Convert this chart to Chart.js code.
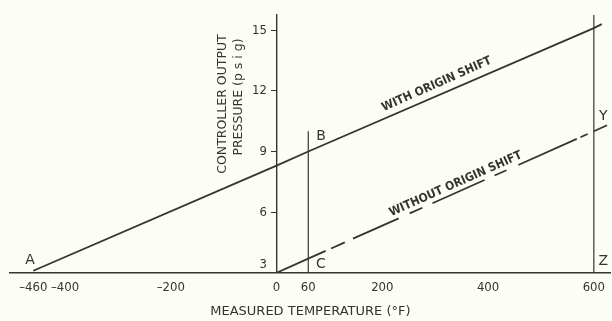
<!DOCTYPE html>
<html>
<head>
<meta charset="utf-8">
<script src="https://cdn.jsdelivr.net/npm/chart.js@4/dist/chart.umd.min.js"></script>
<style>
  html, body { margin: 0; padding: 0; background: #fdfdf7; }
  #wrap { width: 612px; height: 321px; position: relative; }
</style>
</head>
<body>
<div id="wrap"><canvas id="tempChart"></canvas></div>
<script>
// measured temperature (°F) and controller output (psig)
const withShiftTemp = [-460, 0, 60, 600, 615];
const withShiftPsi = [3.1, 8.3, 9.0, 15.1, 15.3];
const withoutShiftTemp = [0, 60, 600, 625];
const withoutShiftPsi = [3.0, 3.7, 10.0, 10.3];
const markerBTemp = [60, 60];
const markerBPsi = [3, 10.0];
const markerYTemp = [600, 600];
const markerYPsi = [3, 15.75];
const xTickValues = [-460, -400, -200, 0, 60, 200, 400, 600];
const yTickValues = [3, 6, 9, 12, 15];
const pointNames = ['A', 'B', 'C', 'Y', 'Z'];
const pointNameTemp = [-466, 84, 84, 618, 618];
const pointNamePsi = [3.6, 9.75, 3.4, 10.75, 3.55];

const ink = '#35352a';
const font = "'DejaVu Sans', sans-serif";
const narrow = "'DejaVu Sans Condensed', 'DejaVu Sans', sans-serif";

const toPoints = (xs, ys) => xs.map((x, i) => ({ x: x, y: ys[i] }));

// text that is not tied to an axis: point names, curve names, y title
const labelPlugin = {
    id: 'labels',
    afterDatasetsDraw(chart) {
        const { ctx, scales } = chart;
        const xs = scales.x, ys = scales.y;
        ctx.save();
        ctx.fillStyle = ink;
        ctx.textAlign = 'center';
        ctx.textBaseline = 'middle';

        ctx.font = '14px ' + font;
        pointNames.forEach((name, i) => {
            ctx.fillText(name, xs.getPixelForValue(pointNameTemp[i]), ys.getPixelForValue(pointNamePsi[i]));
        });

        // curve names drawn along their lines
        const along = (text, temps, psis, at, lift) => {
            const x0 = xs.getPixelForValue(temps[1]), y0 = ys.getPixelForValue(psis[1]);
            const x1 = xs.getPixelForValue(temps[2]), y1 = ys.getPixelForValue(psis[2]);
            const ang = Math.atan2(y1 - y0, x1 - x0);
            const px = xs.getPixelForValue(at);
            const py = y0 + (px - x0) * (y1 - y0) / (x1 - x0);
            ctx.save();
            ctx.translate(px, py);
            ctx.rotate(ang);
            ctx.font = '600 12px ' + narrow;
            ctx.fillText(text, 0, -lift);
            ctx.restore();
        };
        along('WITH ORIGIN SHIFT', withShiftTemp, withShiftPsi, 310, 9);
        along('WITHOUT ORIGIN SHIFT', withoutShiftTemp, withoutShiftPsi, 345, 8);

        // y axis title, reading bottom to top
        const ax = xs.getPixelForValue(0);
        ctx.font = '12.5px ' + font;
        ctx.save();
        ctx.translate(ax - 54, 104);
        ctx.rotate(-Math.PI / 2);
        ctx.fillText('CONTROLLER OUTPUT', 0, 0);
        ctx.restore();
        ctx.save();
        ctx.translate(ax - 38, 97);
        ctx.rotate(-Math.PI / 2);
        ctx.fillText('PRESSURE (p s i g)', 0, 0);
        ctx.restore();
        ctx.restore();
    }
};

const lineStyle = {
    borderColor: ink,
    borderWidth: 1.8,
    pointRadius: 0,
    fill: false,
    tension: 0
};

new Chart(document.getElementById('tempChart'), {
    type: 'line',
    data: {
        datasets: [
            Object.assign({ label: 'With origin shift', data: toPoints(withShiftTemp, withShiftPsi) }, lineStyle),
            Object.assign({
                label: 'Without origin shift',
                data: toPoints(withoutShiftTemp, withoutShiftPsi),
                segment: {
                    borderDash: c => (c.p0DataIndex === 1
                        ? [19, 6, 15, 9, 50, 12, 14, 11, 57, 11, 13, 13, 64, 4, 8, 40]
                        : undefined)
                }
            }, lineStyle),
            Object.assign({ label: 'B', data: toPoints(markerBTemp, markerBPsi) }, lineStyle, { borderWidth: 1.2 }),
            Object.assign({ label: 'Y', data: toPoints(markerYTemp, markerYPsi) }, lineStyle, { borderWidth: 1.2 })
        ]
    },
    options: {
        responsive: true,
        maintainAspectRatio: false,
        animation: false,
        layout: { padding: { left: 10, right: 0, top: 15, bottom: 0 } },
        plugins: {
            legend: { display: false },
            tooltip: { enabled: false }
        },
        scales: {
            x: {
                type: 'linear',
                min: -504,
                max: 632,
                afterBuildTicks: s => { s.ticks = xTickValues.map(v => ({ value: v })); },
                grid: { display: true, drawOnChartArea: false, drawTicks: false },
                border: { display: true, color: ink, width: 1.4 },
                ticks: {
                    color: ink,
                    font: { family: narrow, size: 13 },
                    padding: 7,
                    autoSkip: false,
                    maxRotation: 0,
                    callback: v => String(v).replace('-', '\u2013')
                },
                title: {
                    display: true,
                    text: 'MEASURED TEMPERATURE (\u00B0F)',
                    color: ink,
                    font: { family: font, size: 13 },
                    padding: { top: 1, bottom: 2 }
                }
            },
            y: {
                type: 'linear',
                position: { x: 0 },
                min: 3,
                max: 15.75,
                afterBuildTicks: s => { s.ticks = yTickValues.map(v => ({ value: v })); },
                grid: { display: true, drawOnChartArea: false, tickLength: 5, color: ink },
                border: { display: true, color: ink, width: 1.4 },
                ticks: {
                    color: ink,
                    font: { family: narrow, size: 13 },
                    // the bottom label sits just above the temperature axis
                    callback: v => (v === 3 ? ['3\u2002 ', ''] : v + '\u2002 ')
                }
            }
        }
    },
    plugins: [labelPlugin]
});
</script>
</body>
</html>
